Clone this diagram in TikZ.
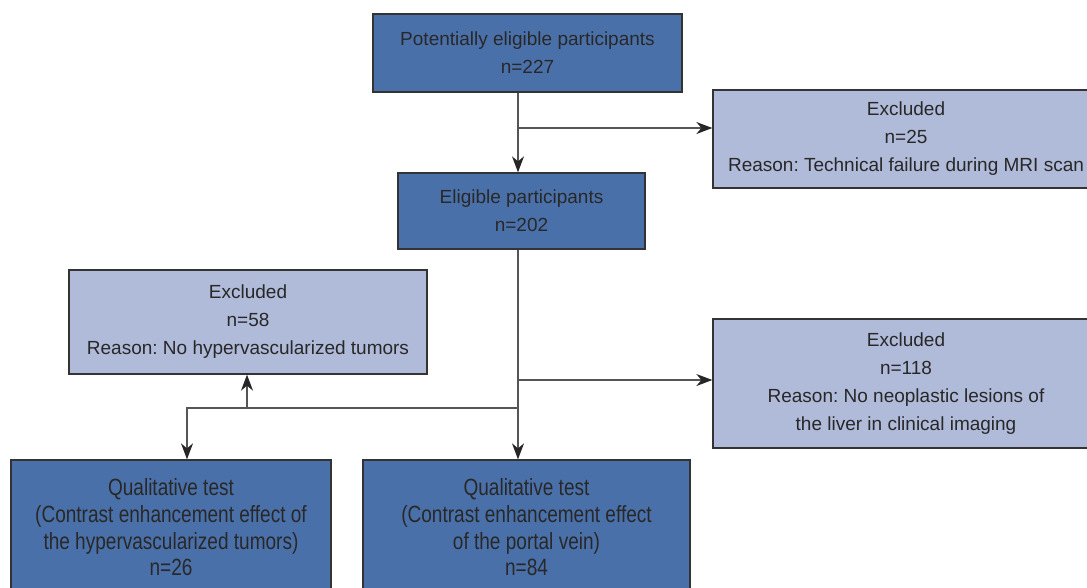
\documentclass[tikz,border=0pt]{standalone}
\usepackage{fontspec}
\setmainfont{Liberation Sans}
\newfontfamily\condfont[FakeStretch=0.81]{Liberation Sans}
\usetikzlibrary{arrows.meta}
\frenchspacing
\definecolor{darkbox}{RGB}{74,112,170}
\definecolor{lightbox}{RGB}{176,186,217}
\definecolor{linegray}{RGB}{85,85,85}
\definecolor{txt}{RGB}{40,40,40}
\tikzset{
	box/.style={draw=black!80,line width=1.3pt,align=center,text=txt,inner sep=0pt,
		font=\fontsize{19}{28}\selectfont},
	mainbox/.style={box,fill=darkbox},
	exbox/.style={box,fill=lightbox},
	testbox/.style={mainbox,font=\condfont\fontsize{23.5}{26.7}\selectfont},
	arr/.style={-{Stealth[length=16pt,width=12pt,inset=5pt,color=black!85]},draw=linegray,line width=1.4pt}
}
\begin{document}
\begin{tikzpicture}[x=1pt,y=-1pt]
	\useasboundingbox (0,0) rectangle (1087,587);
	\clip (0,0) rectangle (1087,587);
	\node[mainbox,minimum width=309pt,minimum height=78pt] (top) at (527.5,53)
		{Potentially eligible participants\\n=227};
	\node[exbox,minimum width=386pt,minimum height=98pt] (ex1) at (906,139)
		{Excluded\\n=25\\Reason: Technical failure during MRI scan};
	\node[mainbox,minimum width=247pt,minimum height=76pt] (elig) at (521.5,211)
		{Eligible participants\\n=202};
	\node[exbox,minimum width=358pt,minimum height=104pt] (ex2) at (248,322)
		{Excluded\\n=58\\Reason: No hypervascularized tumors};
	\node[exbox,minimum width=386pt,minimum height=129pt] (ex3) at (906,383.5)
		{Excluded\\n=118\\Reason: No neoplastic lesions of\\the liver in clinical imaging};
	\node[testbox,minimum width=320pt,minimum height=135pt] (q1) at (171,527.5)
		{Qualitative test\\(Contrast enhancement effect of\\the hypervascularized tumors)\\n=26};
	\node[testbox,minimum width=327pt,minimum height=135pt] (q2) at (526.5,527.5)
		{Qualitative test\\(Contrast enhancement effect\\of the portal vein)\\n=84};

	\path
		(518,128) coordinate (s1)
		(518,380) coordinate (s2)
		(518,408) coordinate (s3)
		(187,408) coordinate (s4)
		(247,408) coordinate (s5)
		;

	\draw[arr] (s1 |- top.south) -- (s1 |- elig.north);
	\draw[arr] (s1) -- (s1 -| ex1.west);
	\draw[arr] (s2 |- elig.south) -- (s2 |- q2.north);
	\draw[arr] (s2) -- (s2 -| ex3.west);
	\draw[arr] (s3) -- (s4) -- (s4 |- q1.north);
	\draw[arr] (s5) -- (s5 |- ex2.south);
\end{tikzpicture}
\end{document}
